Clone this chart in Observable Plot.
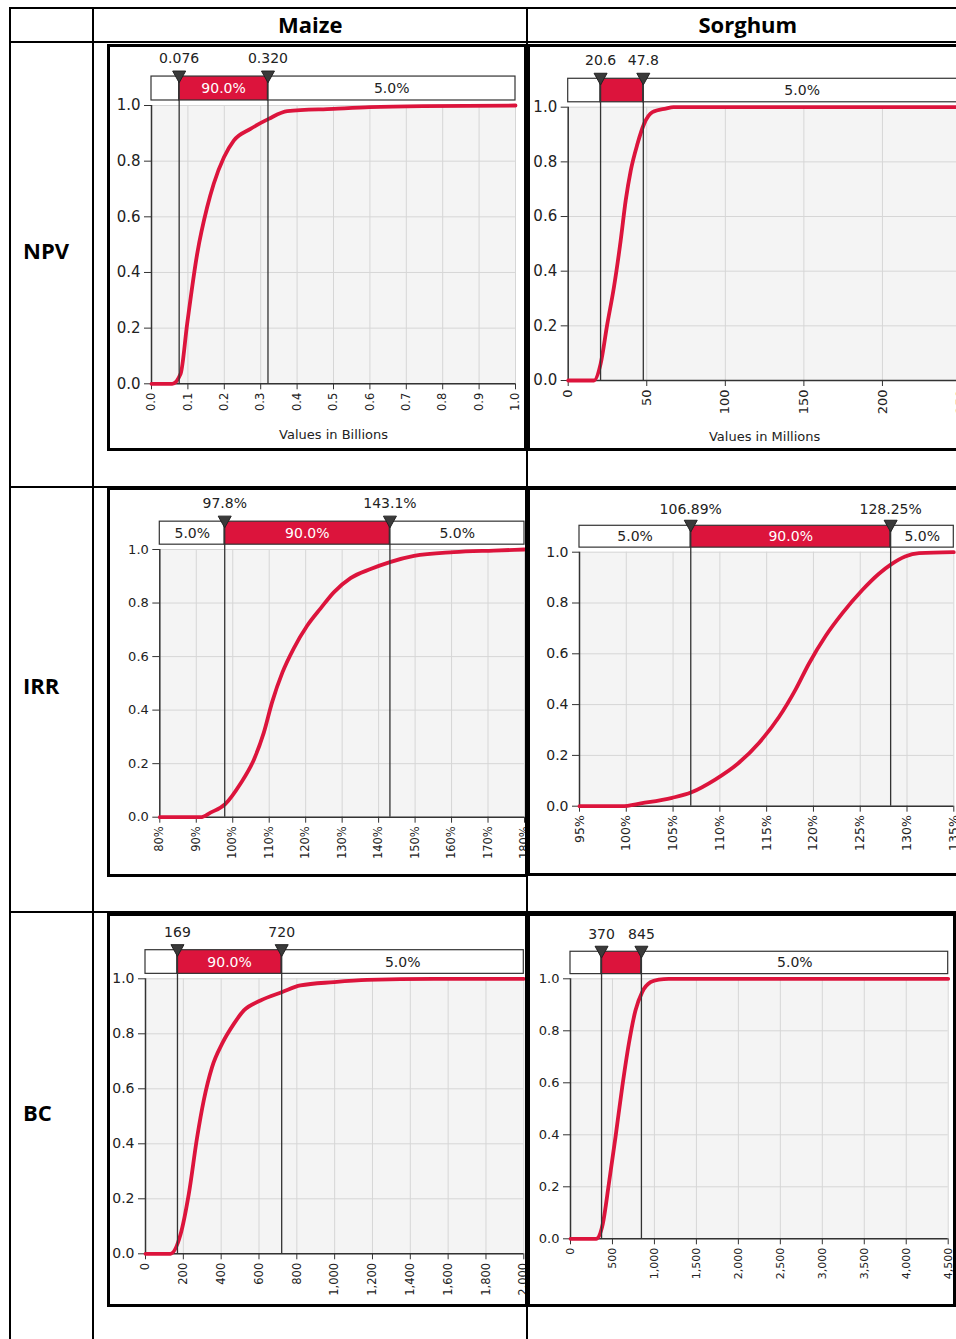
<!DOCTYPE html>
<html><head><meta charset="utf-8">
<script src="https://cdn.jsdelivr.net/npm/d3@7"></script>
<script src="https://cdn.jsdelivr.net/npm/@observablehq/plot@0.6"></script>
<style>
html,body{margin:0;padding:0;background:#fff;}
body{position:relative;width:956px;height:1339px;overflow:hidden;font-family:"DejaVu Sans",sans-serif;}
.line{position:absolute;background:#000;}
.hdr{position:absolute;font-family:"Open Sans",sans-serif;font-weight:700;font-size:22px;color:#000;line-height:1;white-space:nowrap;}
.panel{position:absolute;overflow:hidden;background:#fff;}
.frame{position:absolute;border:3px solid #000;box-sizing:border-box;pointer-events:none;}
</style></head><body>
<script>
// ---------- data ----------
const cropNames = ["Maize", "Sorghum"];
const rowNames = ["NPV", "IRR", "BC"];
const bandLabels = ["5.0%", "90.0%", "5.0%"];
const yTicks = [0, 0.2, 0.4, 0.6, 0.8, 1.0];

// Maize NPV (billions)
const maizeNpvDomain = [0, 1];
const maizeNpvTicks = [0, 0.1, 0.2, 0.3, 0.4, 0.5, 0.6, 0.7, 0.8, 0.9, 1.0];
const maizeNpvX = [0, 0.057, 0.08, 0.098, 0.1255, 0.153, 0.171, 0.199, 0.226, 0.272, 0.322, 0.373, 0.5, 0.6, 0.745, 1.0];
const maizeNpvP = [0, 0, 0.036, 0.216, 0.467, 0.635, 0.719, 0.814, 0.874, 0.916, 0.952, 0.98, 0.988, 0.994, 0.998, 1.0];
const maizeNpvMarks = [0.076, 0.320];
const maizeNpvMarkLabels = ["0.076", "0.320"];
const maizeNpvTitle = "Values in Billions";

// Sorghum NPV (millions)
const sorghumNpvDomain = [0, 250];
const sorghumNpvTicks = [0, 50, 100, 150, 200, 250];
const sorghumNpvX = [0, 16.4, 20.6, 24.9, 29.1, 33.4, 36.6, 39.8, 44.1, 48.3, 53.6, 62.1, 67, 250];
const sorghumNpvP = [0, 0, 0.06, 0.207, 0.341, 0.512, 0.659, 0.768, 0.866, 0.939, 0.982, 0.995, 1.0, 1.0];
const sorghumNpvMarks = [20.6, 47.8];
const sorghumNpvMarkLabels = ["20.6", "47.8"];
const sorghumNpvTitle = "Values in Millions";

// Maize IRR (%)
const maizeIrrDomain = [80, 180];
const maizeIrrTicks = [80, 90, 100, 110, 120, 130, 140, 150, 160, 170, 180];
const maizeIrrX = [80, 91.2, 93.9, 98, 102.1, 105.8, 108.5, 110.8, 113.6, 116.7, 120.4, 124.1, 127.7, 132.3, 137.8, 143.1, 149.7, 160.6, 171.6, 180];
const maizeIrrP = [0, 0, 0.017, 0.05, 0.125, 0.215, 0.315, 0.43, 0.54, 0.63, 0.715, 0.78, 0.84, 0.893, 0.927, 0.953, 0.976, 0.99, 0.996, 1.0];
const maizeIrrMarks = [97.8, 143.1];
const maizeIrrMarkLabels = ["97.8%", "143.1%"];

// Sorghum IRR (%)
const sorghumIrrDomain = [95, 135];
const sorghumIrrTicks = [95, 100, 105, 110, 115, 120, 125, 130, 135];
const sorghumIrrX = [95, 99.5, 101.7, 104.9, 106.97, 109.5, 112.0, 114.2, 116.3, 118.1, 119.5, 121.3, 123.1, 125.2, 127.0, 128.3, 129.8, 131.3, 135];
const sorghumIrrP = [0, 0, 0.012, 0.033, 0.055, 0.105, 0.17, 0.25, 0.35, 0.46, 0.56, 0.67, 0.76, 0.85, 0.915, 0.952, 0.983, 0.996, 1.0];
const sorghumIrrMarks = [106.89, 128.25];
const sorghumIrrMarkLabels = ["106.89%", "128.25%"];

// Maize BC
const maizeBcDomain = [0, 2000];
const maizeBcTicks = [0, 200, 400, 600, 800, 1000, 1200, 1400, 1600, 1800, 2000];
const maizeBcX = [0, 132, 185, 229, 273, 308, 352, 405, 467, 520, 608, 723, 819, 996, 1172, 1524, 2000];
const maizeBcP = [0, 0, 0.07, 0.218, 0.424, 0.558, 0.679, 0.764, 0.836, 0.885, 0.921, 0.952, 0.976, 0.988, 0.996, 1.0, 1.0];
const maizeBcMarks = [169, 720];
const maizeBcMarkLabels = ["169", "720"];

// Sorghum BC
const sorghumBcDomain = [0, 4500];
const sorghumBcTicks = [0, 500, 1000, 1500, 2000, 2500, 3000, 3500, 4000, 4500];
const sorghumBcX = [0, 306, 385, 457, 536, 616, 695, 774, 854, 953, 1052, 1170, 4500];
const sorghumBcP = [0, 0, 0.058, 0.212, 0.391, 0.583, 0.75, 0.878, 0.949, 0.987, 0.997, 1.0, 1.0];
const sorghumBcMarks = [370, 845];
const sorghumBcMarkLabels = ["370", "845"];

// ---------- layout / style ----------
const RED = "#dc143c";
const BAND_BOTTOM = 1.018, BAND_TOP = 1.104, BAND_MID = (BAND_BOTTOM + BAND_TOP) / 2, MARK_LABEL_Y = 1.17;
const fmt1 = d => d.toFixed(1);
const fmtInt = d => String(d);
const fmtPct = d => d + "%";
const fmtComma = d3.format(",");

const panels = [
  {left:107, top:44, width:420, height:407, ml:44, mr:12, mt:61, mb:67.7, yFont:15, xFont:11.5,
   domain:maizeNpvDomain, ticks:maizeNpvTicks, fmt:fmt1, xs:maizeNpvX, ps:maizeNpvP, marks:maizeNpvMarks, markLabels:maizeNpvMarkLabels, title:maizeNpvTitle, titleDy:55},
  {left:527, top:44, width:445, height:407, ml:40.7, mr:11.5, mt:62.7, mb:71, yFont:15, xFont:13,
   domain:sorghumNpvDomain, ticks:sorghumNpvTicks, fmt:fmtInt, xs:sorghumNpvX, ps:sorghumNpvP, marks:sorghumNpvMarks, markLabels:sorghumNpvMarkLabels, title:sorghumNpvTitle, titleDy:60},
  {left:107, top:487, width:421, height:390, ml:52.3, mr:4, mt:62, mb:60.3, yFont:13, xFont:11.5,
   domain:maizeIrrDomain, ticks:maizeIrrTicks, fmt:fmtPct, xs:maizeIrrX, ps:maizeIrrP, marks:maizeIrrMarks, markLabels:maizeIrrMarkLabels},
  {left:527, top:487, width:445, height:389, ml:52, mr:18.7, mt:64.7, mb:70.3, yFont:14, xFont:12.5,
   domain:sorghumIrrDomain, ticks:sorghumIrrTicks, fmt:fmtPct, xs:sorghumIrrX, ps:sorghumIrrP, marks:sorghumIrrMarks, markLabels:sorghumIrrMarkLabels},
  {left:107, top:913, width:421, height:394, ml:38, mr:4.7, mt:65.3, mb:53.7, yFont:14, xFont:11.5,
   domain:maizeBcDomain, ticks:maizeBcTicks, fmt:fmtComma, xs:maizeBcX, ps:maizeBcP, marks:maizeBcMarks, markLabels:maizeBcMarkLabels},
  {left:527, top:913, width:429, height:394, ml:43, mr:8.3, mt:65.3, mb:68.7, yFont:13, xFont:11,
   domain:sorghumBcDomain, ticks:sorghumBcTicks, fmt:fmtComma, xs:sorghumBcX, ps:sorghumBcP, marks:sorghumBcMarks, markLabels:sorghumBcMarkLabels}
];

const triangleDown = {
  draw(ctx, size) {
    const r = Math.sqrt(size / Math.PI);
    ctx.moveTo(-r, -r * 0.85);
    ctx.lineTo(r, -r * 0.85);
    ctx.lineTo(0, r * 0.95);
    ctx.closePath();
  }
};

function el(cls, css, text) {
  const d = document.createElement("div");
  d.className = cls;
  Object.assign(d.style, css);
  if (text) d.textContent = text;
  document.body.appendChild(d);
  return d;
}

function cdfChart(c) {
  const data = c.xs.map((x, i) => ({x, p: c.ps[i]}));
  const [x0, x1] = c.domain;
  const span = x1 - x0;
  const segs = [
    {a: x0, b: c.marks[0], label: bandLabels[0], fill: "#ffffff", ink: "#222"},
    {a: c.marks[0], b: c.marks[1], label: bandLabels[1], fill: RED, ink: "#ffffff"},
    {a: c.marks[1], b: x1, label: bandLabels[2], fill: "#ffffff", ink: "#222"}
  ];
  const shown = segs.filter(s => (s.b - s.a) / span > 0.12);
  const markData = c.marks.map((m, i) => ({x: m, label: c.markLabels[i]}));
  const marks = [
    Plot.rect([c.domain], {x1: d => d[0], x2: d => d[1], y1: 0, y2: 1, fill: "#f4f4f4"}),
    Plot.ruleX(c.ticks, {y1: 0, y2: 1, stroke: "#d6d6d6", strokeWidth: 1}),
    Plot.ruleY(yTicks, {x1: x0, x2: x1, stroke: "#d6d6d6", strokeWidth: 1}),
    Plot.axisX({ticks: c.ticks, tickFormat: c.fmt, tickRotate: -90, tickSize: 6, tickPadding: 3,
      fontSize: c.xFont, label: null, stroke: "#333", fill: "#222"}),
    Plot.axisY({ticks: yTicks, tickFormat: fmt1, tickSize: 7, tickPadding: 4,
      fontSize: c.yFont, label: null, stroke: "#333", fill: "#222"}),
    Plot.ruleX([x0], {y1: 0, y2: 1, stroke: "#333", strokeWidth: 1.5}),
    Plot.ruleY([0], {x1: x0, x2: x1, stroke: "#333", strokeWidth: 1.5}),
    Plot.line(data, {x: "x", y: "p", stroke: RED, strokeWidth: 3.8, curve: "monotone-x"}),
    Plot.rect(segs, {x1: "a", x2: "b", y1: BAND_BOTTOM, y2: BAND_TOP, fill: "fill", stroke: "#333", strokeWidth: 1.2}),
    Plot.text(shown, {x: d => (d.a + d.b) / 2, y: BAND_MID, text: "label", fill: "ink", fontSize: 14}),
    Plot.ruleX(markData, {x: "x", y1: 0, y2: BAND_TOP, stroke: "#333", strokeWidth: 1.3}),
    Plot.dot(markData, {x: "x", y: BAND_TOP, symbol: triangleDown, r: 6.5, fill: "#3a3a3a", stroke: "#222", strokeWidth: 1}),
    Plot.text(markData, {x: "x", y: MARK_LABEL_Y, text: "label", fill: "#222", fontSize: 14})
  ];
  if (c.title) marks.push(Plot.text([c.title], {frameAnchor: "bottom", dy: c.titleDy, fill: "#222", fontSize: 13}));
  return Plot.plot({
    width: c.width, height: c.height,
    marginLeft: c.ml, marginRight: c.mr, marginTop: c.mt, marginBottom: c.mb,
    x: {domain: c.domain},
    y: {domain: [0, 1]},
    color: {type: "identity"},
    style: {fontFamily: "'DejaVu Sans', sans-serif", background: "transparent", color: "#222"},
    marks
  });
}

// ---------- table grid ----------
el("line", {left: "9px", top: "7px", width: "947px", height: "2px"});
el("line", {left: "9px", top: "41px", width: "947px", height: "2px"});
el("line", {left: "9px", top: "486px", width: "947px", height: "2px"});
el("line", {left: "9px", top: "911px", width: "947px", height: "2px"});
el("line", {left: "9px", top: "7px", width: "2px", height: "1332px"});
el("line", {left: "92px", top: "7px", width: "2px", height: "1332px"});
el("line", {left: "526px", top: "7px", width: "2px", height: "1332px"});

// headers
const colCenters = [310, 748];
cropNames.forEach((name, i) => {
  const h = el("hdr", {top: "13px"}, name);
  h.style.left = (colCenters[i] - h.offsetWidth / 2) + "px";
});
const rowCenters = [250, 685, 1112];
rowNames.forEach((name, i) => {
  const h = el("hdr", {left: "23px"}, name);
  h.style.top = (rowCenters[i] - h.offsetHeight / 2) + "px";
});

// ---------- panels ----------
panels.forEach(c => {
  const box = el("panel", {left: c.left + "px", top: c.top + "px", width: c.width + "px", height: c.height + "px"});
  const svg = cdfChart(c);
  svg.style.position = "absolute";
  svg.style.left = "0px";
  svg.style.top = "0px";
  box.appendChild(svg);
  el("frame", {left: c.left + "px", top: c.top + "px", width: c.width + "px", height: c.height + "px"});
});
</script>
</body></html>
